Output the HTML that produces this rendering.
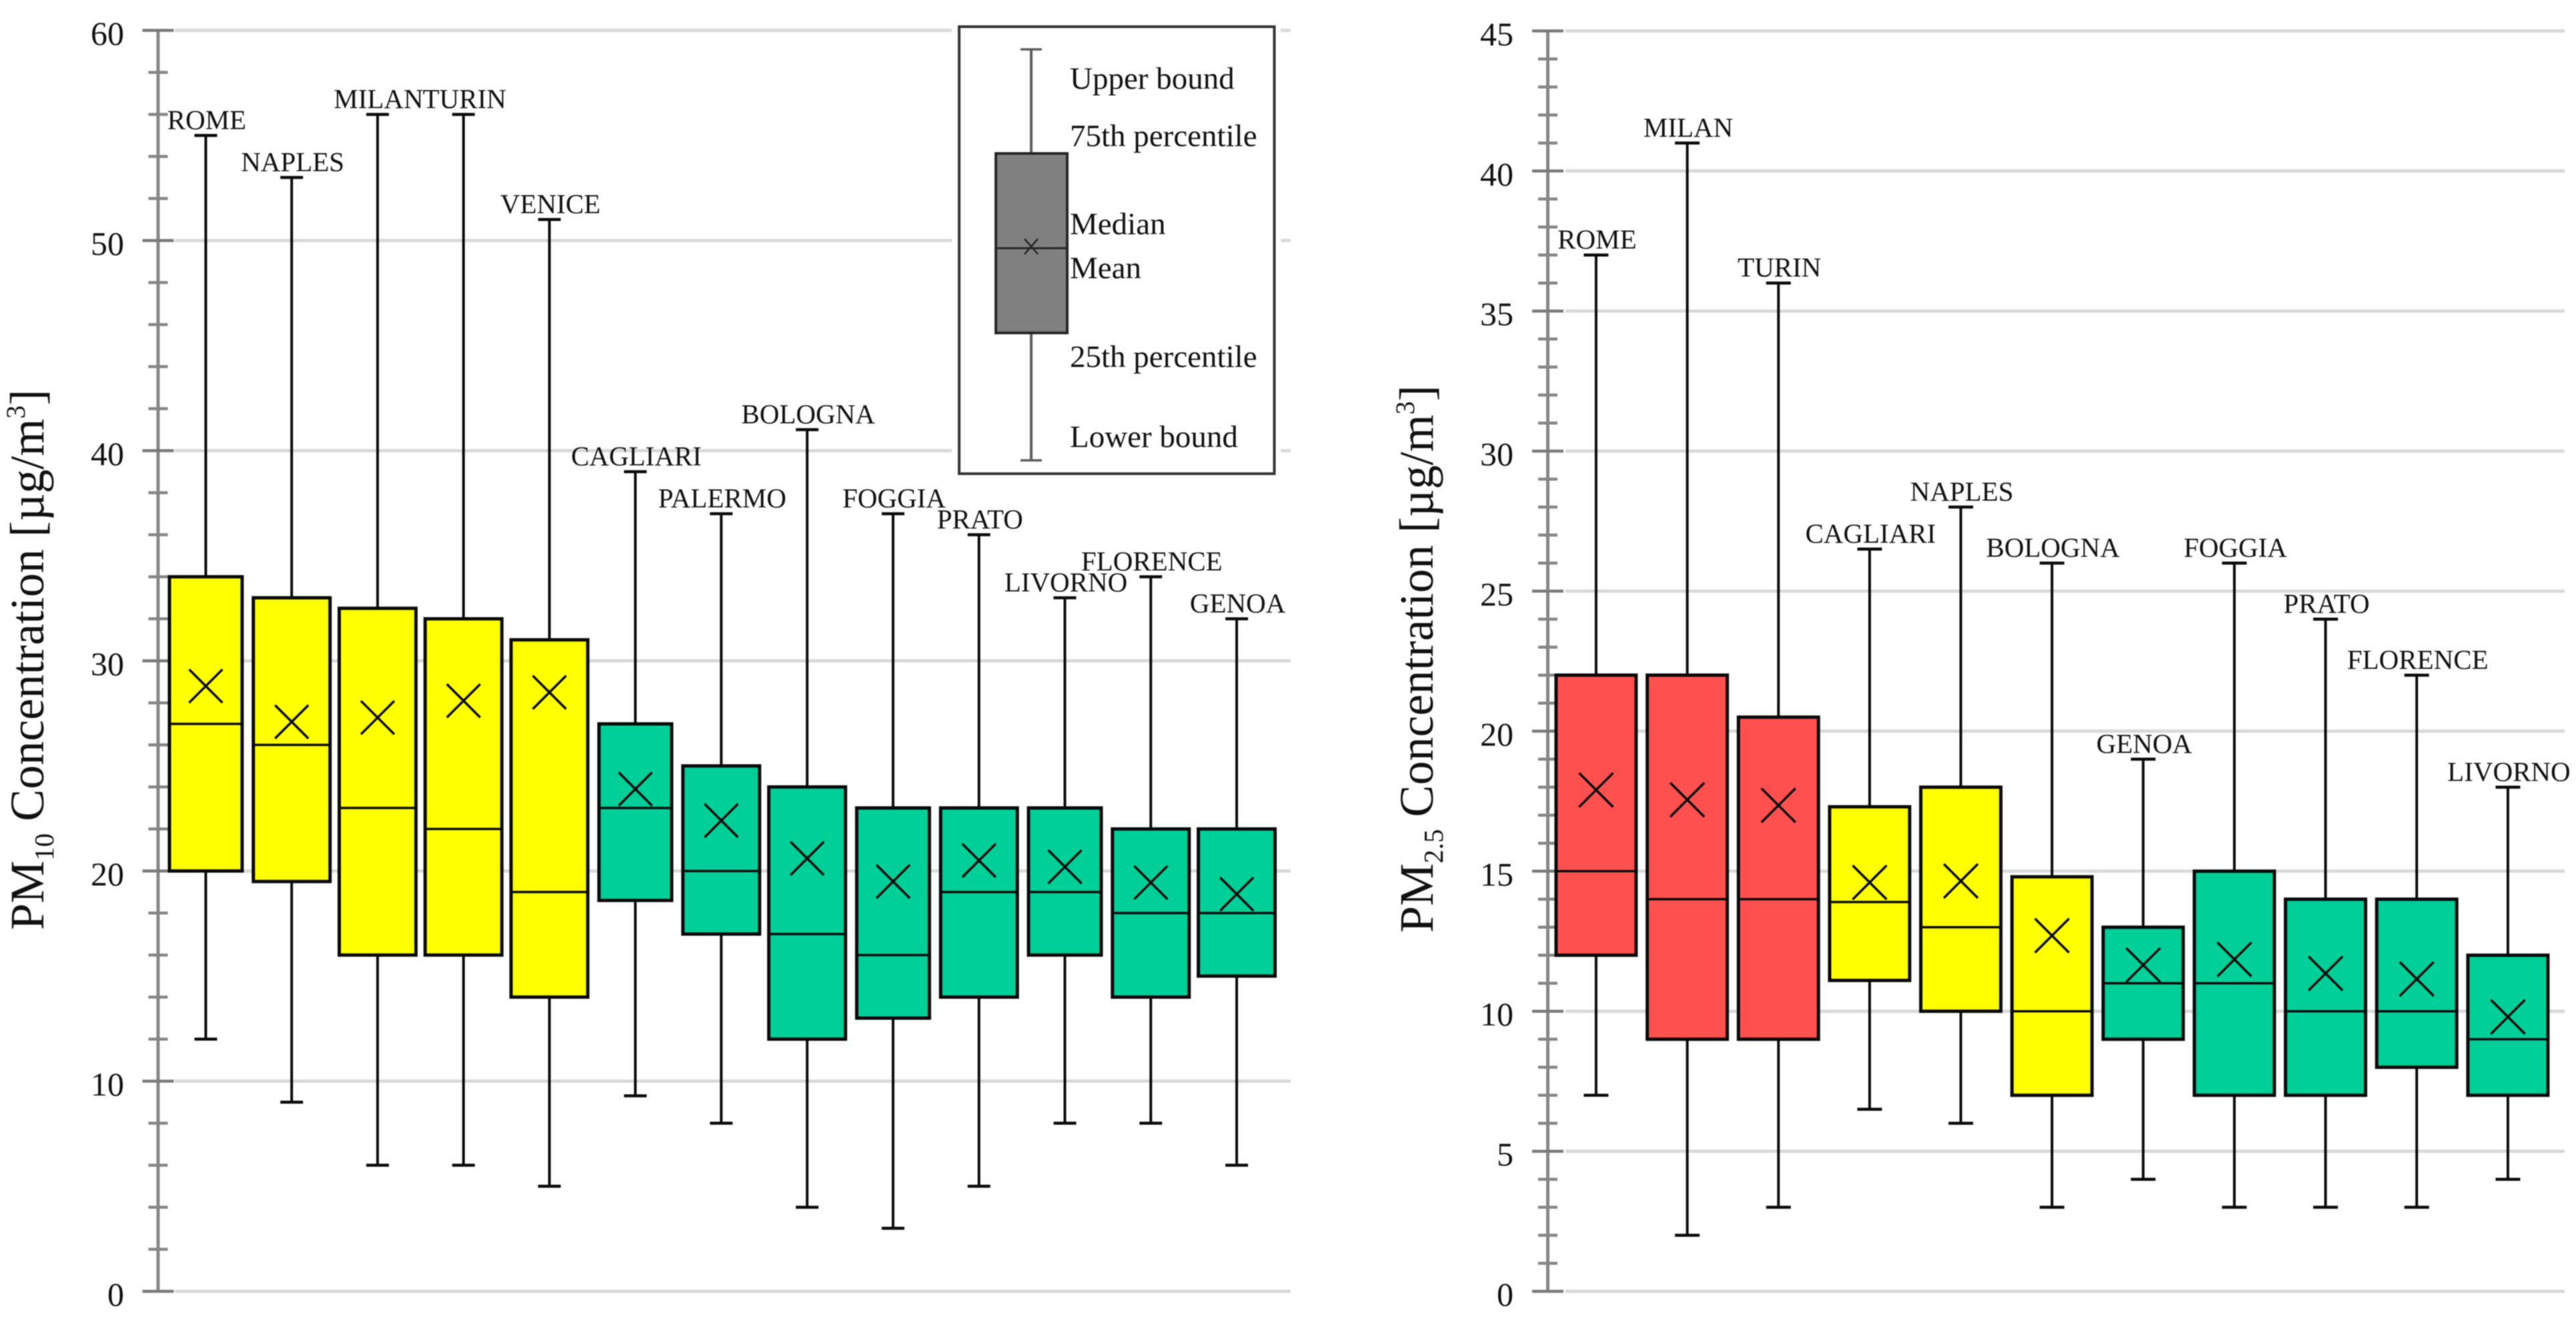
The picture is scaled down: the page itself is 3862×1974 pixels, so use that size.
<!DOCTYPE html>
<html lang="en">
<head>
<meta charset="utf-8">
<title>PM10 and PM2.5 concentration box plots</title>
<style>
  html, body { margin: 0; padding: 0; background: #fff; width: 3862px; height: 1974px; overflow: hidden; }
  svg { display: block; filter: blur(0.7px); }
  text { font-family: "Liberation Serif", "Times New Roman", serif; fill: #111; }
</style>
</head>
<body>
<svg id="figure" xmlns="http://www.w3.org/2000/svg" width="3862" height="1974" viewBox="0 0 3862 1974">
  <rect x="0" y="0" width="3862" height="1974" fill="#fff"/>
  <g id="pm10-chart"></g>
  <g id="pm25-chart"></g>

  <text transform="translate(65,1394) rotate(-90)" font-size="72">PM<tspan font-size="41" dy="15">10</tspan><tspan dy="-15"> Concentration [µg/m</tspan><tspan font-size="40" dy="-28">3</tspan><tspan dy="28">]</tspan></text>
  <text transform="translate(2148,1398) rotate(-90)" font-size="72">PM<tspan font-size="41" dy="15">2.5</tspan><tspan dy="-15"> Concentration [µg/m</tspan><tspan font-size="40" dy="-28">3</tspan><tspan dy="28">]</tspan></text>

  <g id="legend">
    <rect x="1427" y="30" width="493" height="690" fill="#fff"/>
    <rect x="1438" y="40" width="472.5" height="670" fill="#fff" stroke="#333" stroke-width="4"/>
    <line x1="1546" y1="74" x2="1546" y2="690" stroke="#5c5c5c" stroke-width="4"/>
    <line x1="1530" y1="74" x2="1562" y2="74" stroke="#5c5c5c" stroke-width="3.5"/>
    <line x1="1530" y1="690" x2="1562" y2="690" stroke="#5c5c5c" stroke-width="3.5"/>
    <rect x="1493" y="230" width="107" height="269" fill="#808080" stroke="#262626" stroke-width="4"/>
    <line x1="1493" y1="372" x2="1600" y2="372" stroke="#262626" stroke-width="3"/>
    <path d="M1536 358 L1556 381 M1556 358 L1536 381" stroke="#262626" stroke-width="2.5" fill="none"/>
    <text x="1604" y="133" font-size="47">Upper bound</text>
    <text x="1604" y="219" font-size="47">75th percentile</text>
    <text x="1604" y="351" font-size="47">Median</text>
    <text x="1604" y="417" font-size="47">Mean</text>
    <text x="1604" y="550" font-size="47">25th percentile</text>
    <text x="1604" y="670" font-size="47">Lower bound</text>
  </g>
</svg>

<script>
// PM10 panel values
const pm10Cities = ["ROME","NAPLES","MILAN","TURIN","VENICE","CAGLIARI","PALERMO","BOLOGNA","FOGGIA","PRATO","LIVORNO","FLORENCE","GENOA"];
const pm10Upper  = [55,53,56,56,51,39,37,41,37,36,33,34,32];
const pm10Q3     = [34,33,32.5,32,31,27,25,24,23,23,23,22,22];
const pm10Median = [27,26,23,22,19,23,20,17,16,19,19,18,18];
const pm10Q1     = [20,19.5,16,16,14,18.6,17,12,13,14,16,14,15];
const pm10Lower  = [12,9,6,6,5,9.3,8,4,3,5,8,8,6];
const pm10Mean   = [28.8,27.1,27.3,28.1,28.5,23.9,22.4,20.6,19.5,20.5,20.2,19.45,18.9];
const pm10Bands  = ["yellow","yellow","yellow","yellow","yellow","green","green","green","green","green","green","green","green"];
const pm10TickLabels = [0,10,20,30,40,50,60];
const pm10MinorTicks = [2,4,6,8,12,14,16,18,22,24,26,28,32,34,36,38,42,44,46,48,52,54,56,58];

// PM2.5 panel values
const pm25Cities = ["ROME","MILAN","TURIN","CAGLIARI","NAPLES","BOLOGNA","GENOA","FOGGIA","PRATO","FLORENCE","LIVORNO"];
const pm25Upper  = [37,41,36,26.5,28,26,19,26,24,22,18];
const pm25Q3     = [22,22,20.5,17.3,18,14.8,13,15,14,14,12];
const pm25Median = [15,14,14,13.9,13,10,11,11,10,10,9];
const pm25Q1     = [12,9,9,11.1,10,7,9,7,7,8,7];
const pm25Lower  = [7,2,3,6.5,6,3,4,3,3,3,4];
const pm25Mean   = [17.9,17.55,17.35,14.6,14.65,12.7,11.65,11.85,11.35,11.15,9.8];
const pm25Bands  = ["red","red","red","yellow","yellow","yellow","green","green","green","green","green"];
const pm25TickLabels = [0,5,10,15,20,25,30,35,40,45];
const pm25MinorTicks = [1,2,3,4,6,7,8,9,11,12,13,14,16,17,18,19,21,22,23,24,26,27,28,29,31,32,33,34,36,37,38,39,41,42,43,44];

const SVG_NS = "http://www.w3.org/2000/svg";
const bandColors = { yellow: "#ffff00", green: "#00cf98", red: "#ff5050" };
const narrowPm10 = new Set(["ROME","CAGLIARI","FOGGIA","LIVORNO"]);

function mk(parent, tag, props) {
  const node = document.createElementNS(SVG_NS, tag);
  for (const key in props) node.setAttribute(key, props[key]);
  parent.appendChild(node);
  return node;
}

function slug(s) { return String(s).toLowerCase().replace(/[^a-z0-9]+/g, "-"); }

function drawPanel(cfg) {
  const root = document.getElementById(cfg.rootId);
  const yScale = v => cfg.yZero - v * cfg.yPerUnit;
  const xScale = i => cfg.xStart + i * cfg.xStep;

  // Gridlines
  cfg.ticks.forEach(t => {
    const grid = mk(root, "line", { x1: cfg.gridX0, x2: cfg.gridX1, y1: yScale(t), y2: yScale(t), stroke: "#d9d9d9", "stroke-width": 5 });
    
    
  });

  // Axis line
  const axis = mk(root, "line", { x1: cfg.axisX, x2: cfg.axisX, y1: yScale(cfg.yMax), y2: yScale(0), stroke: "#868686", "stroke-width": 5 });
  
  

  // Ticks and tick labels
  cfg.minor.forEach(t => {
    const tick = mk(root, "line", { x1: cfg.axisX - cfg.minorLen, x2: cfg.axisX + cfg.minorLen, y1: yScale(t), y2: yScale(t), stroke: "#868686", "stroke-width": 4.5 });
    
    
  });
  cfg.ticks.forEach(t => {
    const tick = mk(root, "line", { x1: cfg.axisX - cfg.majorLen, x2: cfg.axisX + cfg.majorLen, y1: yScale(t), y2: yScale(t), stroke: "#7a7a7a", "stroke-width": 4.5 });
    
    
    const label = mk(root, "text", { x: cfg.labelRight, y: yScale(t) + 21.5, "font-size": 50, "text-anchor": "end" });
    
    
    label.textContent = String(t);
  });

  // Boxes
  cfg.cities.forEach((city, i) => {
    const id = cfg.prefix + '-' + slug(city);
    const x = xScale(i);
    const w = cfg.boxWidth(city);
    const group = mk(root, "g", {});
    
    

    const whisker = mk(group, "line", { x1: x, x2: x, y1: yScale(cfg.upper[i]), y2: yScale(cfg.lower[i]), stroke: "#0a0a0a", "stroke-width": 4 });
    
    

    const capTop = mk(group, "line", { x1: x - cfg.capHalf, x2: x + cfg.capHalf, y1: yScale(cfg.upper[i]), y2: yScale(cfg.upper[i]), stroke: "#0a0a0a", "stroke-width": 4.5 });
    
    

    const capBottom = mk(group, "line", { x1: x - cfg.capHalf, x2: x + cfg.capHalf, y1: yScale(cfg.lower[i]), y2: yScale(cfg.lower[i]), stroke: "#0a0a0a", "stroke-width": 4.5 });
    
    

    const box = mk(group, "rect", { x: x - w / 2, y: yScale(cfg.q3[i]), width: w, height: yScale(cfg.q1[i]) - yScale(cfg.q3[i]), fill: bandColors[cfg.bands[i]], stroke: "#0a0a0a", "stroke-width": 5 });
    
    

    const median = mk(group, "line", { x1: x - w / 2, x2: x + w / 2, y1: yScale(cfg.median[i]), y2: yScale(cfg.median[i]), stroke: "#0a0a0a", "stroke-width": 3.5 });
    
    

    const my = yScale(cfg.mean[i]);
    const mean = mk(group, "path", { d: "M" + (x - cfg.markHalf) + " " + (my - cfg.markHalf) + " L" + (x + cfg.markHalf) + " " + (my + cfg.markHalf) + " M" + (x + cfg.markHalf) + " " + (my - cfg.markHalf) + " L" + (x - cfg.markHalf) + " " + (my + cfg.markHalf), stroke: "#0a0a0a", "stroke-width": 3.5, fill: "none" });
    
    

    const label = mk(group, "text", { x: x + 1.5, y: yScale(cfg.upper[i]) - 9.5, "font-size": 41, "text-anchor": "middle" });
    
    
    label.textContent = city;
  });
}

drawPanel({
  rootId: "pm10-chart", prefix: "pm10",
  cities: pm10Cities, upper: pm10Upper, q3: pm10Q3, median: pm10Median, q1: pm10Q1, lower: pm10Lower, mean: pm10Mean, bands: pm10Bands,
  ticks: pm10TickLabels, minor: pm10MinorTicks, yMax: 60,
  yZero: 1935.5, yPerUnit: 31.5, xStart: 308.5, xStep: 128.8,
  axisX: 237, majorLen: 23.5, minorLen: 14.5, labelRight: 186, gridX0: 262, gridX1: 1935,
  capHalf: 17, markHalf: 25,
  boxWidth: c => narrowPm10.has(c) ? 109 : 115
});

drawPanel({
  rootId: "pm25-chart", prefix: "pm25",
  cities: pm25Cities, upper: pm25Upper, q3: pm25Q3, median: pm25Median, q1: pm25Q1, lower: pm25Lower, mean: pm25Mean, bands: pm25Bands,
  ticks: pm25TickLabels, minor: pm25MinorTicks, yMax: 45,
  yZero: 1935.5, yPerUnit: 41.98, xStart: 2392.9, xStep: 136.7,
  axisX: 2320.5, majorLen: 23.5, minorLen: 14.5, labelRight: 2269, gridX0: 2347, gridX1: 3845,
  capHalf: 18.5, markHalf: 25.5,
  boxWidth: c => 120
});

// Keep the legend above the left panel's gridlines
const figure = document.getElementById("figure");
figure.appendChild(document.getElementById("legend"));
</script>
</body>
</html>
